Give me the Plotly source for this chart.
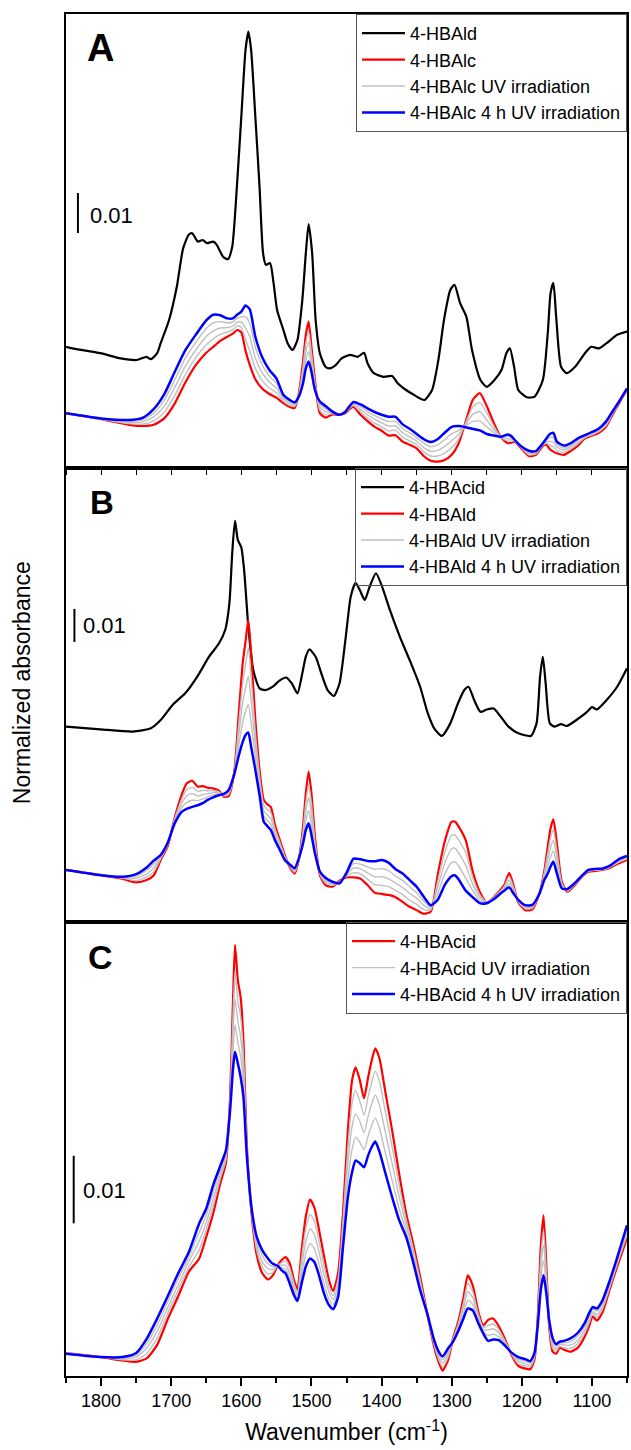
import plotly.graph_objects as go
from plotly.subplots import make_subplots

# ---------------- DATA (normalized absorbance, x1000; offsets arbitrary) ----------------
# Panel A: 4-HBAld reference spectrum
wn_a_ald = [1850, 1841, 1801, 1772, 1749, 1735, 1729, 1720, 1715, 1703, 1692, 1683, 1675, 1670, 1662, 1655,
            1649, 1640, 1635, 1626, 1619, 1613, 1606, 1600, 1594, 1590, 1586, 1580, 1574, 1569, 1565, 1559,
            1554, 1549, 1540, 1534, 1527, 1520, 1513, 1508, 1504, 1499, 1494, 1488, 1480, 1474, 1465, 1457,
            1445, 1434, 1425, 1420, 1411, 1397, 1385, 1377, 1365, 1354, 1339, 1328, 1319, 1311, 1302, 1296,
            1288, 1279, 1271, 1259, 1250, 1239, 1229, 1222, 1217, 1211, 1205, 1193, 1182, 1170, 1163, 1159,
            1155, 1151, 1144, 1136, 1124, 1110, 1101, 1090, 1079, 1064, 1050]
abs_a_ald = [30.3, 29.9, 28.7, 27.4, 27.0, 27.8, 27.2, 28.7, 31.2, 37.0, 45.3, 54.9, 58.3, 58.7, 56.6, 57.0,
             56.2, 56.6, 55.8, 52.8, 52.2, 55.3, 71.2, 87.8, 104.5, 109.1, 104.5, 87.8, 70.3, 53.7, 50.8, 51.2,
             46.2, 39.5, 34.5, 31.2, 29.5, 32.0, 42.0, 53.7, 61.0, 53.7, 37.0, 28.7, 25.3, 24.9, 25.8, 27.4,
             28.3, 27.8, 28.8, 26.2, 23.7, 22.8, 23.0, 21.2, 19.5, 18.3, 17.0, 19.5, 27.0, 37.0, 44.5, 45.8,
             41.2, 37.8, 29.5, 22.0, 20.3, 22.0, 24.5, 28.7, 29.9, 25.3, 19.5, 17.7, 17.8, 22.0, 33.7, 43.7,
             46.3, 37.8, 25.3, 23.7, 25.3, 28.7, 30.3, 29.9, 31.2, 33.3, 34.1]

# Panel A: 4-HBAlc before, during and after 4 h UV irradiation
wn_a = [1850, 1800, 1760, 1740, 1725, 1710, 1695, 1680, 1665, 1650, 1640, 1630, 1620, 1612, 1606, 1600,
        1594, 1588, 1580, 1570, 1560, 1550, 1540, 1530, 1524, 1518, 1512, 1508, 1504, 1500, 1495, 1488,
        1480, 1470, 1460, 1452, 1446, 1440, 1430, 1420, 1410, 1400, 1390, 1380, 1370, 1360, 1350, 1340,
        1330, 1320, 1310, 1300, 1290, 1280, 1270, 1260, 1250, 1240, 1230, 1220, 1215, 1210, 1200, 1190,
        1180, 1170, 1165, 1160, 1155, 1150, 1140, 1130, 1120, 1110, 1100, 1090, 1080, 1070, 1060, 1050]
abs_a_alc = [13.7, 12.2, 10.8, 10.5, 10.8, 12.4, 16.1, 21.3, 25.7, 28.8, 30.3, 31.8, 32.8, 33.6, 34.5, 33.9,
             29.3, 25.8, 22.2, 19.8, 18.5, 17.6, 16.2, 15.2, 15.0, 18.7, 26.6, 33.3, 36.6, 30.3, 22.0, 13.7,
             12.6, 13.4, 13.3, 13.7, 14.7, 15.3, 13.3, 11.7, 10.3, 9.3, 8.1, 8.2, 6.6, 5.8, 4.9, 3.0,
             1.8, 1.6, 2.0, 3.3, 6.2, 11.6, 17.0, 18.7, 15.5, 11.3, 7.7, 6.2, 6.3, 6.6, 4.7, 3.0,
             3.3, 5.5, 5.8, 4.7, 4.1, 3.7, 3.3, 4.3, 5.6, 7.4, 8.1, 8.8, 10.3, 13.5, 16.6, 19.5]
abs_a_uv1 = [13.7, 12.2, 11.1, 11.0, 11.8, 13.9, 18.1, 23.3, 27.6, 30.8, 32.3, 33.4, 34.0, 34.6, 35.5, 35.2,
             32.1, 29.3, 24.9, 21.8, 20.0, 18.8, 16.7, 15.6, 15.4, 18.5, 25.3, 31.2, 34.1, 28.8, 21.4, 14.4,
             13.3, 13.6, 13.3, 13.8, 14.9, 15.6, 14.0, 12.5, 11.2, 10.3, 9.3, 9.4, 7.7, 6.8, 5.8, 4.1,
             3.0, 3.0, 3.7, 5.1, 7.3, 11.3, 15.2, 16.4, 13.8, 10.5, 7.7, 6.8, 6.7, 6.7, 4.9, 3.3,
             3.5, 5.7, 6.2, 5.7, 5.3, 4.4, 3.9, 4.8, 6.1, 7.6, 8.3, 9.1, 10.6, 13.7, 16.7, 19.6]
abs_a_uv2 = [13.7, 12.3, 11.4, 11.6, 12.8, 15.4, 20.1, 25.4, 29.5, 32.9, 34.3, 35.0, 35.1, 35.5, 36.4, 36.5,
             35.0, 32.8, 27.5, 23.7, 21.5, 20.0, 17.3, 16.1, 15.7, 18.3, 23.9, 29.1, 31.6, 27.2, 20.8, 15.2,
             14.1, 13.8, 13.3, 13.9, 15.1, 15.9, 14.6, 13.3, 12.2, 11.3, 10.5, 10.5, 8.8, 7.8, 6.7, 5.1,
             4.2, 4.4, 5.4, 6.8, 8.4, 10.9, 13.4, 14.1, 12.0, 9.7, 7.8, 7.3, 7.2, 6.8, 5.0, 3.7,
             3.8, 5.9, 6.6, 6.6, 6.5, 5.2, 4.5, 5.3, 6.5, 7.8, 8.6, 9.4, 11.0, 13.9, 16.8, 19.7]
abs_a_uv3 = [13.7, 12.4, 11.7, 12.1, 13.7, 16.9, 22.0, 27.4, 31.4, 34.9, 36.3, 36.6, 36.3, 36.5, 37.4, 37.8,
             37.8, 36.2, 30.2, 25.7, 23.0, 21.2, 17.8, 16.5, 16.1, 18.0, 22.6, 27.0, 29.1, 25.7, 20.1, 15.9,
             14.8, 13.9, 13.3, 13.9, 15.2, 16.2, 15.3, 14.1, 13.1, 12.3, 11.6, 11.7, 9.8, 8.8, 7.6, 6.2,
             5.3, 5.8, 7.1, 8.6, 9.4, 10.6, 11.6, 11.7, 10.3, 8.9, 7.8, 7.9, 7.6, 6.9, 5.2, 4.0,
             4.0, 6.0, 7.0, 7.6, 7.6, 5.9, 5.0, 5.7, 7.0, 8.0, 8.8, 9.6, 11.3, 14.1, 16.9, 19.8]
abs_a_4h = [13.7, 12.4, 12.0, 12.6, 14.7, 18.4, 24.0, 29.4, 33.3, 36.9, 38.3, 38.2, 37.4, 37.4, 38.3, 39.1,
            40.6, 39.7, 32.8, 27.6, 24.5, 22.4, 18.3, 16.9, 16.4, 17.8, 21.2, 24.9, 26.6, 24.1, 19.5, 16.6,
            15.5, 14.1, 13.3, 14.0, 15.4, 16.5, 15.9, 14.9, 14.0, 13.3, 12.8, 12.8, 10.9, 9.8, 8.5, 7.2,
            6.5, 7.2, 8.8, 10.3, 10.5, 10.2, 9.8, 9.4, 8.5, 8.1, 7.8, 8.4, 8.0, 7.0, 5.3, 4.3,
            4.2, 6.2, 7.4, 8.5, 8.8, 6.6, 5.6, 6.2, 7.4, 8.2, 9.0, 9.9, 11.6, 14.3, 17.0, 19.9]

# Panel B: 4-HBAcid reference spectrum
wn_b_acid = [1850, 1801, 1755, 1729, 1715, 1698, 1680, 1663, 1646, 1632, 1623, 1617, 1613, 1609, 1605, 1600,
             1596, 1590, 1583, 1574, 1566, 1554, 1546, 1536, 1528, 1520, 1513, 1508, 1503, 1494, 1486, 1477,
             1468, 1460, 1451, 1444, 1437, 1431, 1424, 1417, 1408, 1400, 1388, 1374, 1359, 1345, 1334, 1325,
             1314, 1302, 1291, 1282, 1276, 1268, 1259, 1250, 1240, 1230, 1219, 1205, 1187, 1179, 1174, 1170,
             1166, 1160, 1153, 1144, 1136, 1119, 1107, 1100, 1093, 1079, 1064, 1050]
abs_b_acid = [59.2, 58.4, 57.7, 58.7, 61.2, 65.8, 69.3, 74.3, 80.4, 84.4, 88.5, 96.6, 111.7, 121.6, 115.8, 113.5,
              106.7, 89.5, 76.4, 70.8, 70.3, 71.5, 73.1, 74.1, 72.3, 69.3, 75.4, 80.4, 82.6, 80.4, 75.4, 70.3,
              68.5, 72.3, 86.5, 98.6, 102.8, 100.6, 97.6, 101.6, 105.7, 102.1, 94.5, 86.5, 78.9, 71.3, 63.2, 58.7,
              56.4, 60.2, 66.3, 70.3, 71.3, 67.3, 63.7, 64.4, 64.7, 62.2, 59.2, 57.2, 56.4, 60.2, 74.3, 80.4,
              72.3, 60.2, 59.2, 60.0, 59.4, 61.7, 63.7, 65.1, 64.4, 67.3, 71.3, 76.9]

# Panel B: 4-HBAld before, during and after 4 h UV irradiation
wn_b = [1850, 1800, 1770, 1750, 1735, 1725, 1715, 1705, 1695, 1685, 1678, 1670, 1662, 1655, 1648, 1640,
        1632, 1625, 1618, 1610, 1604, 1598, 1594, 1590, 1586, 1580, 1574, 1568, 1563, 1558, 1552, 1545,
        1538, 1530, 1524, 1518, 1512, 1508, 1504, 1500, 1495, 1488, 1480, 1470, 1460, 1450, 1440, 1430,
        1420, 1410, 1400, 1390, 1380, 1370, 1360, 1350, 1340, 1330, 1320, 1310, 1300, 1295, 1290, 1280,
        1270, 1260, 1250, 1240, 1230, 1225, 1218, 1212, 1205, 1195, 1185, 1175, 1168, 1163, 1159, 1155,
        1150, 1143, 1135, 1125, 1115, 1105, 1095, 1085, 1075, 1062, 1050]
abs_b_ald = [15.8, 14.2, 13.1, 12.0, 12.7, 14.1, 18.8, 23.0, 31.6, 38.6, 42.0, 42.8, 41.0, 41.2, 40.7, 40.5,
             39.8, 38.0, 38.2, 45.6, 62.2, 78.4, 85.0, 91.5, 81.4, 61.2, 46.1, 37.0, 35.7, 34.9, 29.4, 24.8,
             20.3, 16.3, 14.7, 18.8, 28.9, 39.0, 45.6, 39.0, 25.9, 14.2, 11.2, 10.7, 12.5, 13.5, 13.5, 13.1,
             11.2, 8.9, 8.5, 8.2, 7.5, 6.1, 4.6, 3.6, 2.5, 3.1, 14.2, 24.3, 30.4, 30.4, 28.9, 24.8,
             15.3, 9.2, 5.9, 7.5, 9.9, 11.2, 14.9, 11.2, 5.9, 3.6, 3.8, 8.7, 15.3, 22.8, 28.4, 31.1,
             23.8, 12.2, 9.2, 11.0, 13.5, 15.2, 15.5, 15.8, 16.3, 17.8, 18.8]
abs_b_uv1 = [15.8, 14.2, 13.3, 12.6, 13.7, 15.2, 19.2, 23.3, 31.2, 37.3, 40.1, 40.8, 39.6, 39.9, 39.8, 39.8,
             39.5, 38.2, 38.7, 45.4, 59.2, 72.5, 77.9, 83.0, 74.3, 57.4, 44.2, 35.4, 34.1, 33.2, 28.3, 24.1,
             19.9, 16.6, 15.1, 18.9, 27.6, 36.2, 41.7, 35.9, 24.6, 14.5, 11.8, 11.1, 12.3, 13.9, 14.9, 14.6,
             13.0, 11.3, 11.1, 10.7, 9.6, 8.3, 6.6, 5.4, 3.8, 3.6, 12.3, 21.0, 26.3, 26.3, 24.9, 21.0,
             13.4, 8.3, 5.9, 7.4, 9.6, 10.8, 13.8, 10.6, 6.1, 4.0, 4.2, 8.7, 14.7, 20.8, 25.5, 27.9,
             21.5, 11.7, 9.4, 11.2, 13.6, 15.4, 15.7, 15.9, 16.5, 18.1, 19.1]
abs_b_uv2 = [15.8, 14.2, 13.4, 13.3, 14.6, 16.4, 19.6, 23.5, 30.8, 36.0, 38.2, 38.9, 38.2, 38.6, 38.9, 39.2,
             39.1, 38.4, 39.1, 45.2, 56.2, 66.5, 70.9, 74.5, 67.3, 53.7, 42.3, 33.7, 32.4, 31.4, 27.1, 23.3,
             19.6, 16.8, 15.5, 19.1, 26.4, 33.5, 37.8, 32.7, 23.4, 14.8, 12.3, 11.5, 12.1, 14.2, 16.4, 16.1,
             14.9, 13.7, 13.7, 13.1, 11.8, 10.4, 8.7, 7.2, 5.1, 4.1, 10.5, 17.8, 22.2, 22.3, 20.9, 17.2,
             11.4, 7.5, 5.8, 7.2, 9.3, 10.4, 12.7, 10.0, 6.3, 4.4, 4.5, 8.6, 14.0, 18.8, 22.6, 24.7,
             19.3, 11.2, 9.6, 11.4, 13.7, 15.5, 15.8, 16.0, 16.7, 18.4, 19.4]
abs_b_uv3 = [15.8, 14.2, 13.6, 13.9, 15.6, 17.5, 19.9, 23.8, 30.3, 34.7, 36.2, 36.9, 36.8, 37.3, 37.9, 38.5,
             38.8, 38.6, 39.6, 45.0, 53.1, 60.6, 63.8, 65.9, 60.2, 49.9, 40.4, 32.1, 30.8, 29.7, 26.0, 22.6,
             19.2, 17.1, 15.9, 19.2, 25.1, 30.7, 33.8, 29.6, 22.1, 15.0, 12.9, 11.8, 11.9, 14.6, 17.8, 17.5,
             16.7, 16.0, 16.2, 15.6, 13.9, 12.6, 10.7, 8.9, 6.4, 4.6, 8.6, 14.5, 18.0, 18.2, 16.9, 13.3,
             9.5, 6.6, 5.8, 7.1, 9.0, 9.9, 11.6, 9.3, 6.5, 4.7, 4.9, 8.6, 13.4, 16.7, 19.7, 21.5,
             17.0, 10.7, 9.8, 11.5, 13.8, 15.7, 16.0, 16.1, 16.8, 18.7, 19.7]
abs_b_4h = [15.8, 14.2, 13.7, 14.5, 16.5, 18.6, 20.3, 24.0, 29.9, 33.4, 34.3, 34.9, 35.4, 36.0, 37.0, 37.8,
            38.4, 38.8, 40.0, 44.8, 50.1, 54.6, 56.7, 57.4, 53.1, 46.1, 38.5, 30.4, 29.1, 27.9, 24.8, 21.8,
            18.8, 17.3, 16.3, 19.3, 23.8, 27.9, 29.9, 26.4, 20.8, 15.3, 13.4, 12.2, 11.7, 14.9, 19.2, 19.0,
            18.5, 18.4, 18.8, 18.0, 16.0, 14.7, 12.7, 10.7, 7.7, 5.1, 6.7, 11.2, 13.9, 14.1, 12.9, 9.5,
            7.5, 5.7, 5.7, 6.9, 8.7, 9.5, 10.5, 8.7, 6.7, 5.1, 5.2, 8.5, 12.7, 14.7, 16.8, 18.3,
            14.7, 10.2, 10.0, 11.7, 13.9, 15.8, 16.1, 16.2, 17.0, 19.0, 20.0]

# Panel C: 4-HBAcid before, during and after 4 h UV irradiation
wn_c = [1850, 1800, 1770, 1750, 1735, 1720, 1705, 1690, 1675, 1660, 1650, 1640, 1630, 1622, 1616, 1612,
        1609, 1605, 1601, 1597, 1592, 1585, 1578, 1570, 1562, 1555, 1548, 1542, 1537, 1531, 1525, 1520,
        1514, 1508, 1502, 1496, 1490, 1482, 1475, 1469, 1462, 1455, 1448, 1442, 1437, 1431, 1425, 1419,
        1414, 1409, 1403, 1395, 1385, 1375, 1365, 1355, 1345, 1335, 1325, 1318, 1313, 1305, 1298, 1290,
        1283, 1277, 1270, 1262, 1255, 1248, 1241, 1233, 1225, 1215, 1205, 1195, 1188, 1182, 1177, 1173,
        1169, 1165, 1161, 1156, 1151, 1146, 1140, 1130, 1120, 1110, 1104, 1099, 1093, 1085, 1075, 1065, 1050]
abs_c_acid = [3.4, 2.8, 2.3, 2.1, 2.6, 4.6, 8.4, 11.8, 15.4, 17.4, 20.6, 24.1, 28.5, 31.5, 41.3, 55.1,
              63.8, 58.6, 56.1, 49.7, 33.9, 23.6, 17.9, 15.2, 14.3, 14.9, 16.4, 17.2, 17.6, 16.7, 14.2, 12.8,
              18.6, 23.6, 26.1, 25.0, 22.1, 17.7, 14.2, 12.6, 15.2, 24.1, 36.4, 43.8, 45.7, 43.8, 41.1, 44.3,
              46.7, 48.5, 47.0, 42.3, 36.4, 30.0, 24.1, 19.6, 14.7, 9.3, 4.3, 1.9, 0.8, 2.4, 5.6, 8.3,
              11.7, 14.9, 13.4, 9.5, 7.5, 8.3, 8.5, 7.4, 5.7, 3.2, 1.5, 1.1, 1.0, 2.4, 9.3, 19.1,
              23.8, 16.2, 7.3, 3.6, 3.3, 4.2, 3.9, 3.6, 4.2, 5.9, 7.4, 8.8, 8.2, 9.4, 12.7, 15.9, 20.4]
abs_c_uv1 = [3.4, 2.8, 2.4, 2.4, 3.3, 5.6, 9.3, 12.7, 16.1, 18.7, 21.7, 25.2, 29.2, 32.0, 40.8, 52.7,
             59.9, 55.5, 53.2, 47.6, 33.5, 23.9, 18.6, 16.1, 15.1, 15.3, 16.4, 16.8, 17.0, 16.0, 13.7, 12.4,
             17.4, 21.8, 23.9, 23.0, 20.4, 16.3, 13.3, 11.9, 14.3, 22.9, 33.9, 40.4, 42.3, 40.7, 38.6, 41.4,
             43.5, 45.1, 43.6, 39.3, 33.9, 28.3, 23.2, 18.9, 14.2, 9.3, 4.6, 2.3, 1.3, 2.8, 5.5, 7.9,
             10.9, 13.7, 12.5, 9.1, 7.2, 7.5, 7.7, 6.9, 5.4, 3.3, 1.8, 1.5, 1.3, 2.7, 8.9, 17.5,
             21.6, 15.2, 7.6, 4.1, 3.7, 4.4, 4.2, 4.1, 4.8, 6.4, 7.9, 9.2, 8.7, 9.9, 13.0, 16.2, 20.9]
abs_c_uv2 = [3.4, 2.8, 2.6, 2.8, 4.1, 6.6, 10.1, 13.5, 16.9, 20.0, 22.7, 26.2, 29.8, 32.5, 40.3, 50.2,
             55.9, 52.5, 50.2, 45.5, 33.2, 24.1, 19.3, 16.9, 15.9, 15.8, 16.4, 16.4, 16.4, 15.2, 13.1, 12.0,
             16.2, 19.9, 21.8, 21.0, 18.7, 15.0, 12.4, 11.3, 13.5, 21.6, 31.5, 37.0, 38.8, 37.7, 36.0, 38.5,
             40.3, 41.6, 40.1, 36.3, 31.5, 26.6, 22.4, 18.3, 13.7, 9.3, 4.8, 2.7, 1.9, 3.3, 5.4, 7.6,
             10.2, 12.5, 11.6, 8.7, 6.9, 6.8, 7.0, 6.4, 5.2, 3.4, 2.2, 1.8, 1.6, 2.9, 8.6, 15.9,
             19.4, 14.2, 7.8, 4.6, 4.0, 4.7, 4.6, 4.6, 5.3, 6.9, 8.4, 9.5, 9.1, 10.3, 13.4, 16.6, 21.4]
abs_c_uv3 = [3.3, 2.8, 2.7, 3.1, 4.8, 7.5, 11.0, 14.4, 17.6, 21.3, 23.8, 27.3, 30.5, 32.9, 39.8, 47.8,
             52.0, 49.4, 47.3, 43.4, 32.8, 24.4, 19.9, 17.8, 16.6, 16.2, 16.3, 16.0, 15.8, 14.5, 12.6, 11.5,
             14.9, 18.1, 19.6, 18.9, 16.9, 13.6, 11.4, 10.6, 12.6, 20.4, 29.0, 33.6, 35.4, 34.6, 33.5, 35.6,
             37.1, 38.2, 36.7, 33.2, 29.0, 24.8, 21.5, 17.6, 13.2, 9.3, 5.1, 3.1, 2.4, 3.7, 5.2, 7.2,
             9.4, 11.2, 10.6, 8.2, 6.6, 6.0, 6.2, 5.8, 4.9, 3.4, 2.5, 2.2, 1.9, 3.2, 8.2, 14.3,
             17.1, 13.2, 8.1, 5.1, 4.4, 4.9, 4.9, 5.1, 5.9, 7.4, 8.8, 9.9, 9.6, 10.8, 13.7, 16.9, 21.8]
abs_c_4h = [3.3, 2.8, 2.8, 3.4, 5.5, 8.5, 11.8, 15.2, 18.3, 22.6, 24.8, 28.3, 31.1, 33.4, 39.3, 45.3,
            48.0, 46.3, 44.3, 41.3, 32.4, 24.6, 20.6, 18.6, 17.4, 16.6, 16.3, 15.6, 15.2, 13.7, 12.0, 11.1,
            13.7, 16.2, 17.4, 16.9, 15.2, 12.2, 10.5, 9.9, 11.7, 19.1, 26.5, 30.2, 31.9, 31.5, 30.9, 32.7,
            33.9, 34.7, 33.2, 30.2, 26.5, 23.1, 20.6, 16.9, 12.7, 9.3, 5.3, 3.5, 2.9, 4.1, 5.1, 6.8,
            8.6, 10.0, 9.7, 7.8, 6.3, 5.2, 5.4, 5.3, 4.6, 3.5, 2.8, 2.5, 2.2, 3.4, 7.8, 12.7,
            14.9, 12.2, 8.3, 5.6, 4.7, 5.1, 5.2, 5.6, 6.4, 7.9, 9.3, 10.2, 10.0, 11.2, 14.0, 17.2, 22.3]

x_range = [1850, 1050]
y_ranges = [[0, 113.5], [0, 137.6], [0, 67.2]]
scale_bar = 10  # = 0.01 absorbance

# ---------------- FIGURE ----------------
FONT = "Liberation Sans, Arial, Helvetica, sans-serif"
BLACK, RED, GRAY, BLUE = "#000000", "#ff0000", "#c0c0c0", "#0000ff"

fig = make_subplots(rows=3, cols=1, vertical_spacing=0)


def add(row, x, y, name, color, width, legend, show=True):
    fig.add_trace(go.Scatter(x=x, y=y, mode="lines", name=name,
                             line=dict(color=color, width=width, shape="spline", smoothing=0.6),
                             legend=legend, showlegend=show, hoverinfo="skip"),
                  row=row, col=1)


# Panel A
add(1, wn_a_ald, abs_a_ald, "4-HBAld", BLACK, 2.2, "legend")
add(1, wn_a, abs_a_alc, "4-HBAlc", RED, 2.2, "legend")
add(1, wn_a, abs_a_uv1, "4-HBAlc UV irradiation", GRAY, 1.4, "legend")
add(1, wn_a, abs_a_uv2, "4-HBAlc UV irradiation", GRAY, 1.4, "legend", False)
add(1, wn_a, abs_a_uv3, "4-HBAlc UV irradiation", GRAY, 1.4, "legend", False)
add(1, wn_a, abs_a_4h, "4-HBAlc 4 h UV irradiation", BLUE, 2.5, "legend")
# Panel B
add(2, wn_b_acid, abs_b_acid, "4-HBAcid", BLACK, 2.2, "legend2")
add(2, wn_b, abs_b_ald, "4-HBAld", RED, 2.2, "legend2")
add(2, wn_b, abs_b_uv1, "4-HBAld UV irradiation", GRAY, 1.4, "legend2")
add(2, wn_b, abs_b_uv2, "4-HBAld UV irradiation", GRAY, 1.4, "legend2", False)
add(2, wn_b, abs_b_uv3, "4-HBAld UV irradiation", GRAY, 1.4, "legend2", False)
add(2, wn_b, abs_b_4h, "4-HBAld 4 h UV irradiation", BLUE, 2.5, "legend2")
# Panel C
add(3, wn_c, abs_c_acid, "4-HBAcid", RED, 2.2, "legend3")
add(3, wn_c, abs_c_uv1, "4-HBAcid UV irradiation", GRAY, 1.4, "legend3")
add(3, wn_c, abs_c_uv2, "4-HBAcid UV irradiation", GRAY, 1.4, "legend3", False)
add(3, wn_c, abs_c_uv3, "4-HBAcid UV irradiation", GRAY, 1.4, "legend3", False)
add(3, wn_c, abs_c_4h, "4-HBAcid 4 h UV irradiation", BLUE, 2.5, "legend3")

axis_common = dict(showline=True, mirror=True, linecolor=BLACK, linewidth=1.5,
                   showgrid=False, zeroline=False)
for r in (1, 2, 3):
    fig.update_yaxes(range=y_ranges[r - 1], showticklabels=False, ticks="", **axis_common, row=r, col=1)
fig.update_xaxes(range=x_range, showticklabels=False, ticks="outside", ticklen=5, tickwidth=1.2,
                 tickcolor=BLACK, dtick=50, tick0=0, **axis_common, row=1, col=1)
fig.update_xaxes(range=x_range, showticklabels=False, ticks="", **axis_common, row=2, col=1)
fig.update_xaxes(range=x_range, ticks="outside", ticklen=8, tickwidth=1.5, tickcolor=BLACK,
                 dtick=100, tick0=0, tickfont=dict(family=FONT, size=18, color=BLACK),
                 minor=dict(ticks="outside", ticklen=5, tickwidth=1.5, tickcolor=BLACK, dtick=50, tick0=0),
                 title=dict(text="Wavenumber (cm<sup>-1</sup>)", font=dict(family=FONT, size=23, color=BLACK),
                            standoff=14),
                 **axis_common, row=3, col=1)

leg = dict(xanchor="right", yanchor="top", x=1, bgcolor="rgba(255,255,255,0)", bordercolor="#555555",
           borderwidth=1, font=dict(family=FONT, size=18, color=BLACK), itemwidth=43, tracegroupgap=0)
fig.update_layout(
    width=631, height=1450, autosize=False,
    margin=dict(l=66, r=2, t=14, b=74),
    paper_bgcolor="white", plot_bgcolor="white",
    font=dict(family=FONT, color=BLACK),
    legend=dict(leg, y=1.0),
    legend2=dict(leg, y=2 / 3),
    legend3=dict(leg, y=1 / 3),
)

# scale bars (0.01 absorbance)
bars = [("x", "y", 1833, 58.75), ("x2", "y2", 1838, 84.9), ("x3", "y3", 1839, 22.6)]
for xr, yr, xb, yb in bars:
    fig.add_shape(type="line", xref=xr, yref=yr, x0=xb, x1=xb, y0=yb, y1=yb + scale_bar,
                  line=dict(color=BLACK, width=2))
labels_001 = [("x", "y", 1819, 63.25), ("x2", "y2", 1829, 90.0), ("x3", "y3", 1829, 27.5)]
for xr, yr, xt, yt in labels_001:
    fig.add_annotation(xref=xr, yref=yr, x=xt, y=yt, text="0.01", showarrow=False, xanchor="left",
                       yanchor="middle", font=dict(family=FONT, size=22, color=BLACK))

# panel letters
letters = [("A", "x domain", "y domain", 0.0337, 0.926, 38), ("B", "x2 domain", "y2 domain", 0.039, 0.924, 33),
           ("C", "x3 domain", "y3 domain", 0.036, 0.923, 34)]
for t, xr, yr, xl, yl, fs in letters:
    fig.add_annotation(xref=xr, yref=yr, x=xl, y=yl, text="<b>" + t + "</b>", showarrow=False,
                       xanchor="left", yanchor="middle", font=dict(family=FONT, size=fs, color=BLACK))

fig.add_annotation(xref="paper", yref="paper", x=-0.0782, y=0.5088, text="Normalized absorbance",
                   textangle=-90, showarrow=False, xanchor="center", yanchor="middle",
                   font=dict(family=FONT, size=23, color=BLACK))

fig.write_html("out.html")
